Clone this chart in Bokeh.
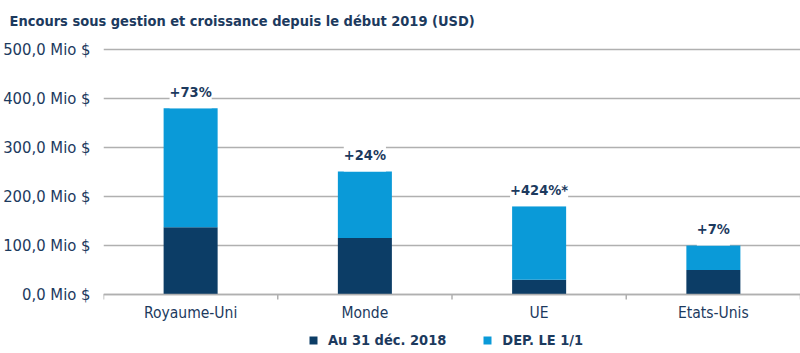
import math
from bokeh.plotting import figure
from bokeh.models import (ColumnDataSource, FixedTicker, Range1d, Legend, LegendItem,
                          CustomJSTickFormatter, Span)
from bokeh.core.properties import value
from bokeh.embed import file_html
from bokeh.resources import INLINE

categories = ["Royaume-Uni", "Monde", "UE", "Etats-Unis"]
base_2018 = [137, 115, 30, 50]          # Au 31 déc. 2018 (Mio $)
growth = [243, 136, 150, 50]            # DEP. LE 1/1 (Mio $)
pct_labels = ["+73%", "+24%", "+424%*", "+7%"]
y_ticks = [0, 100, 200, 300, 400, 500]
series_names = ["Au 31 déc. 2018", "DEP. LE 1/1"]

DARK = "#0c3d66"
LIGHT = "#0a9ad8"
TEXT = "#1c3a5e"
GRID = "#b0b0b0"
FONT = "'DejaVu Sans Condensed', sans-serif"

xs = [i + 0.5 for i in range(len(categories))]
bounds = list(range(len(categories) + 1))
totals = [a + b for a, b in zip(base_2018, growth)]
src = ColumnDataSource(dict(x=xs, base=base_2018, growth=growth, total=totals,
                            zero=[0] * len(xs), pct=pct_labels, cat=categories))
bsrc = ColumnDataSource(dict(b=bounds, zero=[0] * len(bounds)))

p = figure(frame_width=697, frame_height=315, output_backend="svg", toolbar_location=None,
           x_range=Range1d(0, len(categories)), y_range=Range1d(-120.4, 522),
           min_border_left=100, min_border_right=3, min_border_top=38, min_border_bottom=0)
p.outline_line_color = None
p.background_fill_color = "white"

p.title.text = "Encours sous gestion et croissance depuis le début 2019 (USD)"
p.title.text_font = FONT
p.title.text_font_size = "14.5px"
p.title.text_font_style = "bold"
p.title.text_color = TEXT
p.title.offset = -94
p.title.standoff = 19

r1 = p.vbar(x="x", bottom="zero", top="base", width=0.31, source=src,
            fill_color=DARK, line_color=None)
r2 = p.vbar(x="x", bottom="base", top="total", width=0.31, source=src,
            fill_color=LIGHT, line_color=None)

# growth labels above bars
p.text(x="x", y="total", text="pct", source=src, text_align="center",
       text_baseline="bottom", y_offset=0, text_font=value(FONT),
       text_font_size="14.5px", text_font_style="bold", text_color=TEXT,
       background_fill_color="white", padding=(0, 8), level="overlay")

# category axis: baseline, boundary ticks and labels
p.add_layout(Span(location=0, dimension="width", line_color=GRID, line_width=1.5))
p.ray(x="b", y="zero", source=bsrc, length=5, length_units="screen",
      angle=-math.pi / 2, line_color=GRID, line_width=1.5)
p.text(x="x", y="zero", text="cat", source=src, text_align="center",
       text_baseline="middle", y_offset=19, text_font=value(FONT),
       text_font_size="15.5px", text_color=TEXT)
p.xaxis.visible = False

# y axis
p.yaxis.ticker = FixedTicker(ticks=y_ticks)
p.yaxis.formatter = CustomJSTickFormatter(code="return tick.toFixed(1).replace('.', ',') + ' Mio $';")
p.yaxis.axis_line_color = None
p.yaxis.major_tick_line_color = None
p.yaxis.minor_tick_line_color = None
p.yaxis.major_label_text_font = FONT
p.yaxis.major_label_text_font_size = "16.5px"
p.yaxis.major_label_text_color = TEXT
p.yaxis.major_label_standoff = 7

p.xgrid.grid_line_color = None
p.ygrid.grid_line_color = GRID
p.ygrid.grid_line_width = 1.5

legend = Legend(items=[LegendItem(label=series_names[0], renderers=[r1]),
                       LegendItem(label=series_names[1], renderers=[r2])],
                orientation="horizontal", location=(205, 4),
                label_text_font=FONT, label_text_font_size="14.5px",
                label_text_font_style="bold", label_text_color=TEXT,
                glyph_width=10, glyph_height=10, label_standoff=10,
                spacing=36, padding=0, margin=0, label_height=18,
                border_line_color=None, background_fill_alpha=0)
p.add_layout(legend, "center")

open("out.html", "w").write(file_html(p, INLINE))
